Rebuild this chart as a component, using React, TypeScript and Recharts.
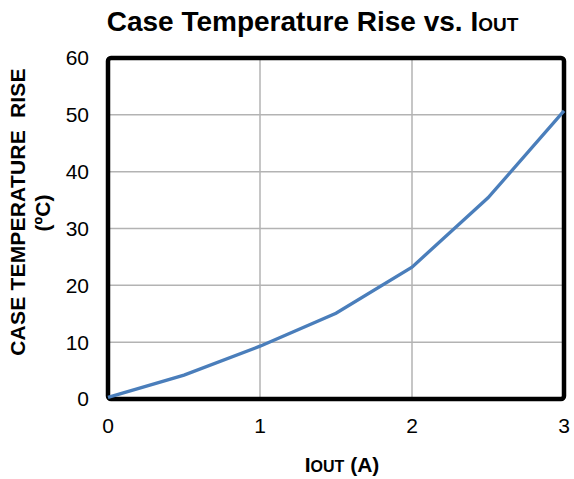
import { LineChart, Line, XAxis, YAxis, CartesianGrid, ReferenceArea, Label } from "recharts";

// output current (A)
const currents = [0, 0.5, 1, 1.5, 2, 2.5, 3];
// case temperature rise (°C)
const tempRise = [0.3, 4.2, 9.3, 15.1, 23.2, 35.4, 50.7];
const xTicks = [0, 1, 2, 3];
const yTicks = [0, 10, 20, 30, 40, 50, 60];

const data = currents.map((c, i) => ({ iout: c, rise: tempRise[i] }));

const FONT = "'Liberation Sans', Arial, sans-serif";

const YLabel = () => (
  <g fontFamily={FONT} fontWeight="bold" fontSize={21} fill="#000">
    <text x={25} y={212} textAnchor="middle" letterSpacing={0.2} transform="rotate(-90 25 212)">
      CASE TEMPERATURE&#160;&#160;RISE
    </text>
    <text x={50} y={213} textAnchor="middle" transform="rotate(-90 50 213)">
      (ºC)
    </text>
  </g>
);

const XLabel = () => (
  <text x={342} y={472} textAnchor="middle" fontFamily={FONT} fontWeight="bold" fontSize={21} fill="#000">
    I<tspan fontSize={16}>OUT</tspan>
    <tspan> (A)</tspan>
  </text>
);

export default function App() {
  return (
    <div style={{ position: "absolute", left: 0, top: 0, width: 574, height: 479, background: "#fff" }}>
      <div
        style={{
          position: "absolute",
          left: 0,
          top: 7,
          width: 625,
          textAlign: "center",
          fontFamily: FONT,
          fontWeight: "bold",
          fontSize: 28,
          color: "#000",
          lineHeight: "30px",
          whiteSpace: "nowrap",
        }}
      >
        Case Temperature Rise vs. I<span style={{ fontSize: 19 }}>OUT</span>
      </div>
      <LineChart width={574} height={479} data={data} margin={{ top: 58, right: 10, left: 0, bottom: 0 }}>
        <CartesianGrid stroke="#b3b3b3" strokeWidth={1.5} />
        <XAxis
          dataKey="iout"
          type="number"
          domain={[0, 3]}
          ticks={xTicks}
          height={80}
          axisLine={false}
          tickLine={false}
          tickSize={0}
          tickMargin={19}
          tick={{ fontSize: 21, fill: "#000", fontFamily: FONT }}
        >
          <Label content={<XLabel />} />
        </XAxis>
        <YAxis
          type="number"
          domain={[0, 60]}
          ticks={yTicks}
          width={108}
          axisLine={false}
          tickLine={false}
          tickSize={0}
          tickMargin={19}
          tick={{ fontSize: 21, fill: "#000", fontFamily: FONT }}
        >
          <Label content={<YLabel />} />
        </YAxis>
        <Line
          type="linear"
          dataKey="rise"
          stroke="#4a7ebb"
          strokeWidth={3.3}
          dot={false}
          isAnimationActive={false}
        />
        <ReferenceArea
          x1={0}
          x2={3}
          y1={0}
          y2={60}
          fill="none"
          stroke="#000"
          strokeWidth={4.5}
          radius={3}
          ifOverflow="visible"
        />
      </LineChart>
    </div>
  );
}
